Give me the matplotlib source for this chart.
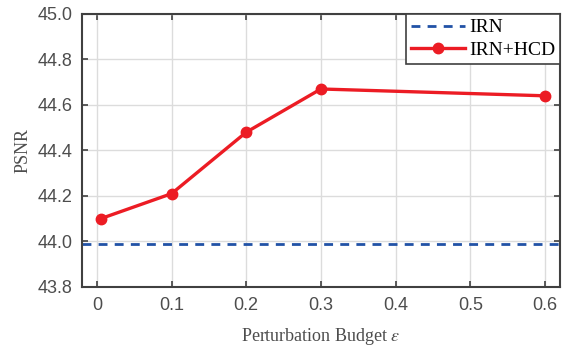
import matplotlib.pyplot as plt

plt.rcParams['mathtext.fontset'] = 'stix'

eps = [0.005, 0.1, 0.2, 0.3, 0.6]
psnr_hcd = [44.10, 44.21, 44.48, 44.67, 44.64]
psnr_irn = 43.99
xticks = [0, 0.1, 0.2, 0.3, 0.4, 0.5, 0.6]
yticks = [43.8, 44.0, 44.2, 44.4, 44.6, 44.8, 45.0]

fig = plt.figure(figsize=(5.65, 3.47), dpi=100)
ax = fig.add_axes([0.145, 0.173, 0.846, 0.787])

ax.axhline(psnr_irn, color='#2152a6', lw=2, ls=(0, (3.2, 2.6)), label='IRN')
ax.plot(eps, psnr_hcd, '-o', color='#ec1c24', lw=2.4, ms=7.5, label='IRN+HCD')

ax.set_xlim(-0.02, 0.62)
ax.set_ylim(43.8, 45.0)
ax.set_xticks(xticks)
ax.set_xticklabels(['0', '0.1', '0.2', '0.3', '0.4', '0.5', '0.6'])
ax.set_yticks(yticks)
ax.set_yticklabels(['%.1f' % v for v in yticks])
ax.grid(True, color='#dcdcdc', lw=1)
ax.set_axisbelow(True)
ax.tick_params(direction='in', top=True, right=True, length=4, width=1.2,
               color='#404040', labelcolor='#4d4d4d', labelsize=13, pad=7)
for lab in ax.get_xticklabels() + ax.get_yticklabels():
    lab.set_family('Liberation Sans')
for s in ax.spines.values():
    s.set_color('#404040')
    s.set_linewidth(1.5)

ax.set_xlabel(r'Perturbation Budget $\varepsilon$', family='Liberation Serif',
              fontsize=13, color='#4d4d4d', labelpad=9)
ax.set_ylabel('PSNR', family='Liberation Serif', fontsize=13, color='#4d4d4d', labelpad=4)

leg = ax.legend(loc='upper right', prop={'family': 'Liberation Serif', 'size': 14},
                fancybox=False, framealpha=1, edgecolor='#404040', borderaxespad=0,
                handlelength=2.8, borderpad=0.25, labelspacing=0.25, handletextpad=0.2)
leg.get_frame().set_linewidth(1.2)

fig.savefig('out.png', dpi=100)
